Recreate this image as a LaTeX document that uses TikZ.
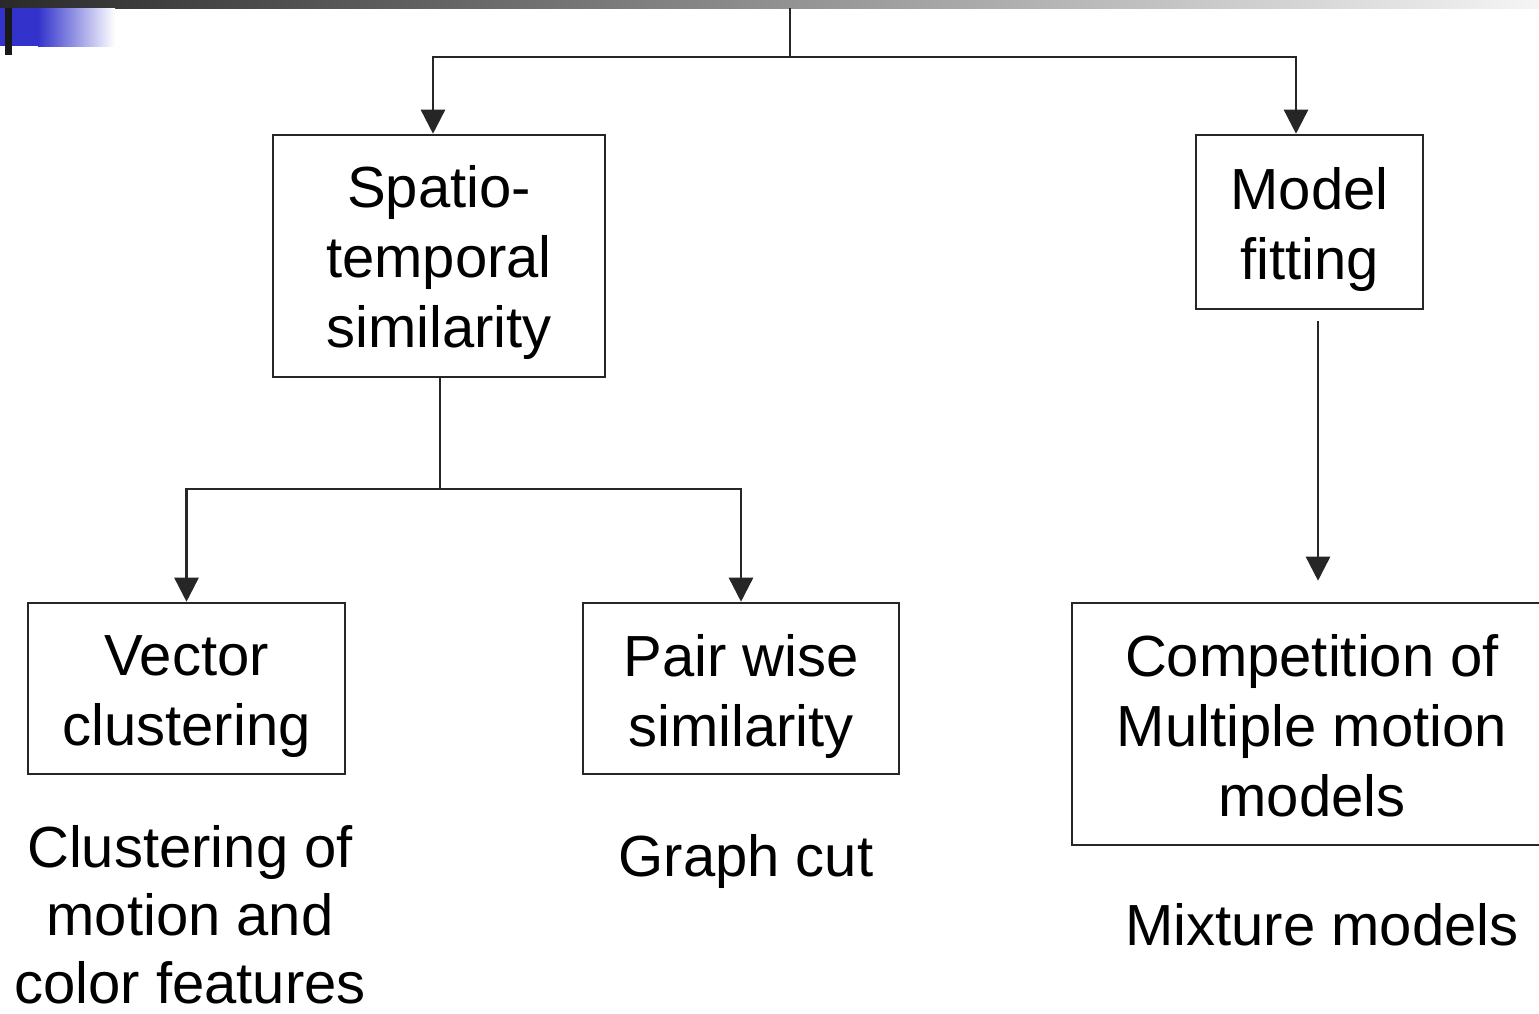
\documentclass[tikz,border=0pt]{standalone}
\usepackage{fontspec}
\setmainfont{Liberation Sans}
\usetikzlibrary{arrows.meta}
\definecolor{barblue}{RGB}{51,51,204}
\definecolor{bardark}{RGB}{42,42,42}
\tikzset{
  box/.style={draw=black!85, line width=2.6pt, rectangle, inner sep=0pt},
  caption/.style={align=center, inner sep=0pt, font=\fontsize{58}{70}\selectfont},
  link/.style={draw=black!85, line width=2.6pt},
  arrow/.style={link, -{Triangle[width=24pt,length=24pt]}},
}
\begin{document}
\begin{tikzpicture}[x=1pt,y=-1pt]
  \clip (0,0) rectangle (1539,1013);
  \useasboundingbox (0,0) rectangle (1539,1013);
  % header band
  \shade[left color=bardark, right color=white!96!black] (0,0) rectangle (1539,8);
  \fill[barblue] (0,8) rectangle (38,46);
  \shade[left color=barblue, right color=white] (38,8) rectangle (115,46);
  \fill[black!90] (5,8) rectangle (12,55);

  % boxes
  \node[box, minimum width=332pt, minimum height=242pt] (spt) at (439,256) {};
  \node[box, minimum width=227pt, minimum height=174pt] (fit) at (1309.5,222) {};
  \node[box, minimum width=317pt, minimum height=171pt] (vec) at (186.5,688.5) {};
  \node[box, minimum width=316pt, minimum height=171pt] (pair) at (741,688.5) {};
  \node[box, minimum width=480pt, minimum height=242pt] (comp) at (1312,724) {};

  % box texts
  \node[caption, yshift=-6pt] (spttext) at (spt) {Spatio-\\temporal\\similarity};
  \node[caption, yshift=-7pt] (fittext) at (fit) {Model\\fitting};
  \node[caption, yshift=-8pt] (vectext) at (vec) {Vector\\clustering};
  \node[caption, yshift=-8pt] (pairtext) at (pair) {Pair wise\\similarity};
  \node[caption, yshift=-2pt] (comptext) at (comp) {Competition of\\Multiple motion\\models};

  % captions
  \node[caption, font=\fontsize{58}{68}\selectfont] (capvec) at (190,915) {Clustering of\\motion and\\color features};
  \node[caption] (cappair) at (746,861) {Graph cut};
  \node[caption] (capcomp) at (1322,925) {Mixture models};

  % connectors
  \coordinate (top) at (790,8);
  \coordinate (split) at (790,57);
  \draw[link] (top) -- (split);
  \draw[arrow] (split) -| (spt.north -| 433,0);
  \draw[arrow] (split) -| (fit.north -| 1296,0);

  \coordinate (fork) at (440,489);
  \draw[link] (spt.south -| fork) -- (fork);
  \draw[arrow] (fork) -| (vec.north);
  \draw[arrow] (fork) -| (pair.north);

  \draw[arrow] ([yshift=-11pt]fit.south -| 1318,0) -- ([yshift=21pt]comp.north -| 1318,0);
\end{tikzpicture}
\end{document}
